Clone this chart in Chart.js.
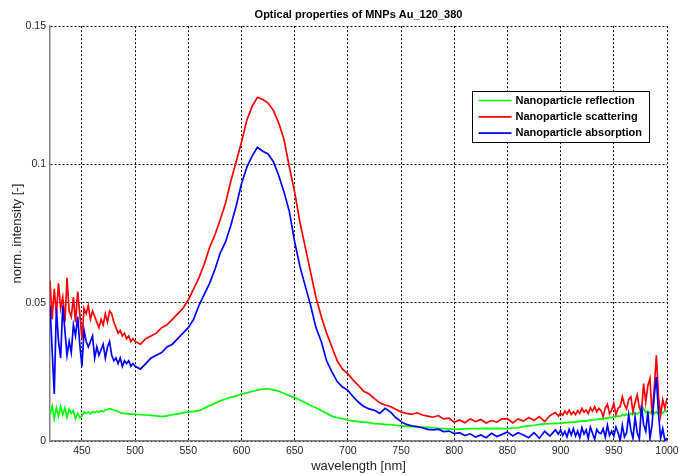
<!DOCTYPE html>
<html>
<head>
<meta charset="utf-8">
<title>Optical properties of MNPs Au_120_380</title>
<script src="https://cdn.jsdelivr.net/npm/chart.js@4.4.1/dist/chart.umd.min.js"></script>
<style>
  html, body { margin: 0; padding: 0; background: #fff; }
  #wrap { width: 678px; height: 475px; }
</style>
</head>
<body>
<div id="wrap"><canvas id="opticsChart" width="678" height="475"></canvas></div>
<script>
// ---------- DATA ----------
const chartTitle = "Optical properties of MNPs Au_120_380";
const xTitle = "wavelength [nm]";
const yTitle = "norm. intensity [-]";

const seriesNames = [
  "Nanoparticle reflection",
  "Nanoparticle scattering",
  "Nanoparticle absorption",
];

const xTicks = [450, 500, 550, 600, 650, 700, 750, 800, 850, 900, 950, 1000];
const yTicks = [0, 0.05, 0.1, 0.15];

const wavelength = [
  420, 422, 424, 426, 428, 430, 432, 434, 436, 438,
  440, 442, 444, 446, 448, 450, 452, 454, 456, 458,
  460, 462, 464, 466, 468, 470, 472, 474, 476, 478,
  480, 482, 484, 486, 488, 490, 492, 494, 496, 498,
  500,
  505, 510, 515, 520, 525, 530, 535, 540, 545, 550,
  555, 560, 565, 570, 575, 580, 585, 590, 595, 600,
  605, 610, 615, 620, 625, 630, 635, 640, 645, 650,
  655, 660, 665, 670, 675, 680, 685, 690, 695, 700,
  705, 710, 715, 720, 725, 730, 735, 740, 745, 750,
  755, 760, 765, 770, 775, 780, 785, 790, 795, 800,
  805, 810, 815, 820, 825, 830, 835, 840, 845, 850,
  855, 860, 865, 870, 875, 880, 885, 890, 895,
  898, 900, 902, 904, 906, 908, 910, 912, 914, 916,
  918, 920, 922, 924, 926, 928, 930, 932, 934, 936,
  938, 940, 942, 944, 946, 948, 950, 952, 954, 956,
  958, 960, 962, 964, 966, 968, 970, 972, 974, 976,
  978, 980, 982, 984, 986, 988, 990, 992, 994, 996,
  998, 1000,
];

const reflection = [
  0.0095, 0.0125, 0.0080, 0.0120, 0.0090, 0.0125, 0.0095, 0.0120, 0.0085, 0.0115,
  0.0100, 0.0110, 0.0080, 0.0100, 0.0085, 0.0090, 0.0105, 0.0100, 0.0105, 0.0098,
  0.0106, 0.0102, 0.0108, 0.0104, 0.0110, 0.0106, 0.0112, 0.0114, 0.0117, 0.0115,
  0.0112, 0.0110, 0.0106, 0.0103, 0.0101, 0.0100, 0.0099, 0.0098, 0.0097, 0.0097,
  0.0096,
  0.0095, 0.0094, 0.0093, 0.0091, 0.0088, 0.0091, 0.0095, 0.0098, 0.0102, 0.0105,
  0.0107, 0.0110, 0.0118, 0.0128, 0.0136, 0.0145, 0.0152, 0.0158, 0.0163, 0.0169,
  0.0174, 0.0179, 0.0184, 0.0188, 0.0189, 0.0185, 0.0180, 0.0172, 0.0164, 0.0157,
  0.0148, 0.0138, 0.0128, 0.0120, 0.0110, 0.0100, 0.0090, 0.0084, 0.0081, 0.0076,
  0.0073, 0.0070, 0.0068, 0.0066, 0.0063, 0.0062, 0.0060, 0.0059, 0.0057, 0.0055,
  0.0053, 0.0052, 0.0051, 0.0050, 0.0049, 0.0048, 0.0046, 0.0045, 0.0044, 0.0042,
  0.0043, 0.0044, 0.0045, 0.0045, 0.0045, 0.0046, 0.0045, 0.0046, 0.0045, 0.0045,
  0.0047, 0.0048, 0.0052, 0.0055, 0.0057, 0.0060, 0.0062, 0.0063, 0.0064,
  0.0064, 0.0066, 0.0065, 0.0067, 0.0066, 0.0068, 0.0067, 0.0069, 0.0068, 0.0070,
  0.0071, 0.0072, 0.0073, 0.0072, 0.0074, 0.0076, 0.0075, 0.0077, 0.0079, 0.0078,
  0.0081, 0.0079, 0.0083, 0.0082, 0.0086, 0.0084, 0.0090, 0.0087, 0.0091, 0.0089,
  0.0095, 0.0092, 0.0097, 0.0093, 0.0100, 0.0096, 0.0102, 0.0098, 0.0104, 0.0100,
  0.0117, 0.0103, 0.0108, 0.0101, 0.0110, 0.0099, 0.0106, 0.0097, 0.0108, 0.0100,
  0.0110, 0.0105,
];

const scattering = [
  0.058, 0.044, 0.055, 0.046, 0.057, 0.048, 0.052, 0.043, 0.059, 0.047,
  0.045, 0.052, 0.043, 0.054, 0.046, 0.037, 0.048, 0.046, 0.049, 0.044,
  0.047, 0.045, 0.043, 0.041, 0.044, 0.042, 0.046, 0.043, 0.047, 0.046,
  0.043, 0.041, 0.039, 0.040, 0.038, 0.039, 0.037, 0.038, 0.036, 0.037,
  0.036,
  0.035, 0.037, 0.038, 0.039, 0.041, 0.042, 0.044, 0.046, 0.048, 0.051,
  0.055, 0.059, 0.064, 0.070, 0.0745, 0.080, 0.086, 0.094, 0.101, 0.108,
  0.116, 0.121, 0.1243, 0.1235, 0.1222, 0.1195, 0.115, 0.109, 0.099, 0.090,
  0.079, 0.070, 0.061, 0.052, 0.045, 0.039, 0.034, 0.029, 0.026, 0.0243,
  0.022, 0.020, 0.018, 0.017, 0.0153, 0.0138, 0.0130, 0.0125, 0.0115, 0.0105,
  0.0100, 0.0096, 0.0102, 0.0094, 0.0090, 0.0086, 0.0092, 0.0080, 0.0083, 0.0068,
  0.0076, 0.0066, 0.0080, 0.0070, 0.0078, 0.0065, 0.0074, 0.0068, 0.0080, 0.0081,
  0.0065, 0.0080, 0.0072, 0.0085, 0.0074, 0.0088, 0.0070, 0.0092, 0.0103,
  0.0090, 0.0101, 0.0093, 0.0108, 0.0098, 0.0112, 0.0096, 0.0106, 0.0095, 0.0110,
  0.0100, 0.0118, 0.0104, 0.0112, 0.0099, 0.0120, 0.0108, 0.0124, 0.0106, 0.0118,
  0.0110, 0.0088, 0.0120, 0.0133, 0.0098, 0.0112, 0.0136, 0.0095, 0.0118, 0.0124,
  0.0160, 0.0132, 0.0116, 0.0150, 0.0160, 0.0106, 0.0140, 0.0167, 0.0120, 0.0104,
  0.0208, 0.0140, 0.0200, 0.0226, 0.0094, 0.0190, 0.0310, 0.0160, 0.0092, 0.0150,
  0.0118, 0.0155,
];

const absorption = [
  0.049, 0.033, 0.017, 0.048, 0.036, 0.030, 0.049, 0.040, 0.031, 0.036,
  0.032, 0.042, 0.038, 0.045, 0.035, 0.027, 0.040, 0.036, 0.034, 0.036,
  0.038, 0.030, 0.034, 0.031, 0.033, 0.035, 0.030, 0.034, 0.036, 0.031,
  0.029, 0.030, 0.028, 0.030, 0.027, 0.029, 0.028, 0.029, 0.027, 0.028,
  0.027,
  0.026, 0.028, 0.030, 0.031, 0.032, 0.034, 0.035, 0.037, 0.039, 0.041,
  0.044, 0.049, 0.053, 0.057, 0.062, 0.068, 0.072, 0.078, 0.085, 0.093,
  0.099, 0.103, 0.1062, 0.1048, 0.1038, 0.101, 0.096, 0.090, 0.083, 0.072,
  0.063, 0.056, 0.049, 0.041, 0.036, 0.029, 0.025, 0.0215, 0.0195, 0.0183,
  0.0160, 0.0140, 0.0125, 0.0116, 0.0111, 0.0100, 0.0118, 0.0105, 0.0085, 0.0070,
  0.0060, 0.0055, 0.0052, 0.0048, 0.0042, 0.0040, 0.0043, 0.0034, 0.0036, 0.0027,
  0.0030, 0.0020, 0.0026, 0.0014, 0.0022, 0.0012, 0.0028, 0.0016, 0.0024, 0.0033,
  0.0018, 0.0030, 0.0022, 0.0012, 0.0030, 0.0010, 0.0035, 0.0018, 0.0040,
  0.0025, 0.0040, 0.0020, 0.0034, 0.0015, 0.0042, 0.0022, 0.0045, 0.0018, 0.0036,
  0.0012, 0.0048, 0.0025, 0.0040, 0.0010, 0.0050, 0.0028, 0.0006, 0.0042, 0.0030,
  0.0027, 0.0045, 0.0014, 0.0057, 0.0020, 0.0035, 0.0018, 0.0050, 0.0030, 0.0002,
  0.0057, 0.0015, 0.0030, 0.0094, 0.0040, 0.0010, 0.0087, 0.0030, 0.0008, 0.0129,
  0.0060, 0.0035, 0.0105, 0.0010, 0.0060, 0.0165, 0.0232, 0.0100, 0.0010, 0.0045,
  0.0002, 0.0010,
];

// ---------- HELPERS ----------
const FONT = "'Liberation Sans', Arial, Helvetica, sans-serif";

function toPoints(values) {
  return wavelength.map((x, i) => ({ x: x, y: values[i] }));
}

function makeDataset(label, values, color, order) {
  return {
    label: label,
    data: toPoints(values),
    borderColor: color,
    backgroundColor: color,
    borderWidth: 1.7,
    pointRadius: 0,
    tension: 0,
    fill: false,
    order: order,
  };
}

// legend box drawn inside the plot, top right like the matlab one
const boxLegend = {
  id: "boxLegend",
  afterDraw(chart) {
    const ctx = chart.ctx;
    const x = 472.5;
    const y = 91.5;
    const w = 177;
    const h = 51;

    ctx.save();
    ctx.fillStyle = "#fff";
    ctx.fillRect(x, y, w, h);
    ctx.strokeStyle = "#000";
    ctx.lineWidth = 1;
    ctx.strokeRect(x, y, w, h);

    ctx.font = "bold 11px " + FONT;
    ctx.textBaseline = "middle";
    ctx.textAlign = "left";

    chart.data.datasets.forEach((ds, i) => {
      const rowY = y + 9 + i * 16.3;
      ctx.strokeStyle = ds.borderColor;
      ctx.lineWidth = 1.7;
      ctx.beginPath();
      ctx.moveTo(x + 6, rowY);
      ctx.lineTo(x + 39, rowY);
      ctx.stroke();
      ctx.fillStyle = "#000";
      ctx.fillText(ds.label, x + 43, rowY);
    });
    ctx.restore();
  },
};

// ---------- CHART ----------
const ctx = document.getElementById("opticsChart").getContext("2d");

const chart = new Chart(ctx, {
  type: "line",
  data: {
    datasets: [
      makeDataset(seriesNames[0], reflection, "#00ff00", 3),
      makeDataset(seriesNames[1], scattering, "#ff0000", 2),
      makeDataset(seriesNames[2], absorption, "#0000ff", 1),
    ],
  },
  plugins: [boxLegend],
  options: {
    responsive: false,
    animation: false,
    devicePixelRatio: 1,
    layout: {
      padding: { left: 0, right: 11, top: 0, bottom: 0 },
    },
    plugins: {
      legend: { display: false },
      tooltip: { enabled: false },
      title: {
        display: true,
        text: chartTitle,
        fullSize: false,
        color: "#000",
        font: { family: FONT, size: 11, weight: "bold" },
        padding: { top: 8, bottom: 5 },
      },
    },
    scales: {
      x: {
        type: "linear",
        min: 420,
        max: 1000,
        afterBuildTicks: (axis) => {
          axis.ticks = xTicks.map((v) => ({ value: v }));
        },
        afterFit: (axis) => {
          axis.height = 34;
          // the "1000" label may hang past the plot edge, like in matlab
          axis.paddingRight = 0;
          axis.paddingLeft = 0;
        },
        grid: { color: "#000", lineWidth: 1, drawTicks: false },
        border: { display: true, color: "#808080", width: 1.5, dash: [2, 2] },
        ticks: {
          color: "#262626",
          font: { family: FONT, size: 10.5 },
          padding: 4,
          maxRotation: 0,
          callback: (value) => String(value),
        },
        title: {
          display: true,
          text: xTitle,
          color: "#262626",
          font: { family: FONT, size: 13 },
          padding: { top: 0, bottom: 1 },
        },
      },
      y: {
        type: "linear",
        min: 0,
        max: 0.15,
        afterBuildTicks: (axis) => {
          axis.ticks = yTicks.map((v) => ({ value: v }));
        },
        afterFit: (axis) => {
          axis.width = 50;
        },
        grid: { color: "#000", lineWidth: 1, drawTicks: false },
        border: { display: true, color: "#808080", width: 1.5, dash: [2, 2] },
        ticks: {
          color: "#262626",
          font: { family: FONT, size: 10.5 },
          padding: 4,
          callback: (value) => String(value),
        },
        title: {
          display: true,
          text: yTitle,
          color: "#262626",
          font: { family: FONT, size: 13 },
          padding: { top: 10, bottom: 0 },
        },
      },
    },
  },
});
</script>
</body>
</html>
